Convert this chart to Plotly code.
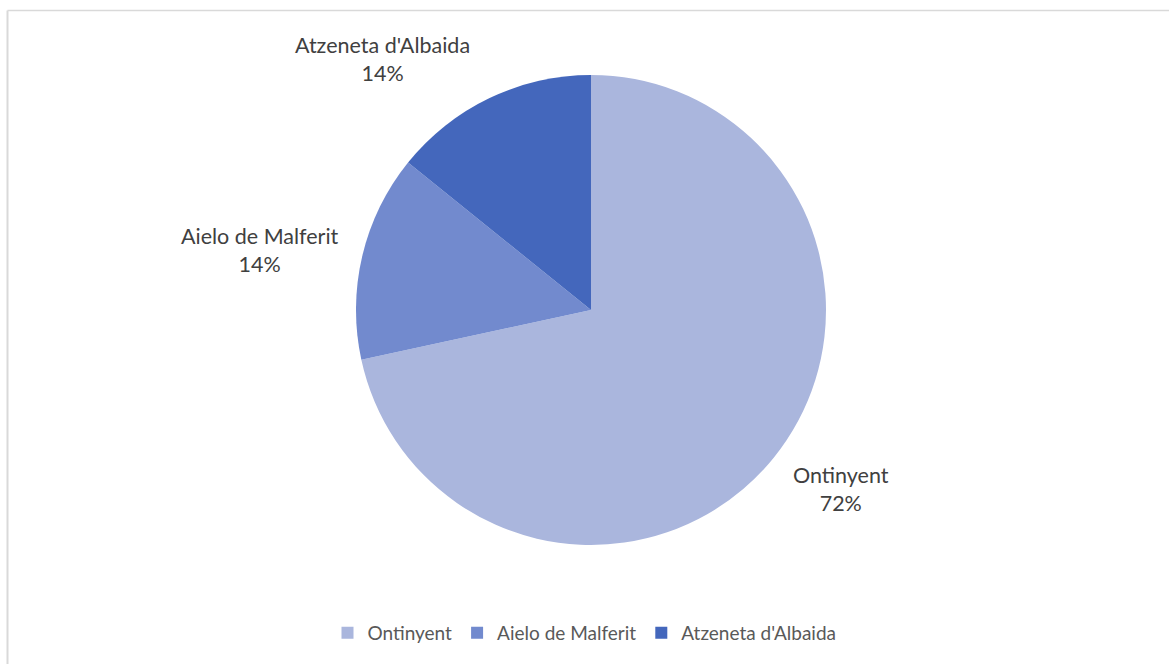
import plotly.graph_objects as go

labels = ["Ontinyent", "Aielo de Malferit", "Atzeneta d'Albaida"]
values = [71.6, 14.2, 14.2]
colors = ["#aab6dd", "#728ace", "#4467bc"]

W, H = 1169, 664
cx, cy, r = 591, 310, 235

fig = go.Figure(go.Pie(
    labels=labels, values=values, sort=False, direction="clockwise", rotation=0,
    marker=dict(colors=colors, line=dict(width=0)),
    textinfo="none", hoverinfo="label+percent",
    domain=dict(x=[(cx - r) / W, (cx + r) / W], y=[1 - (cy + r) / H, 1 - (cy - r) / H]),
))

# label positions (pixel centres) for data labels
label_pos = {"Ontinyent": (841, 489), "Aielo de Malferit": (260, 250), "Atzeneta d'Albaida": (382, 59)}
total = sum(values)
annotations = []
for lab, v in zip(labels, values):
    px, py = label_pos[lab]
    annotations.append(dict(
        x=px / W, y=1 - py / H, xref="paper", yref="paper", showarrow=False,
        text=f"{lab}<br>{round(100 * v / total)}%", align="center",
        font=dict(family="Lato", size=21.5, color="#404040"),
        xanchor="center", yanchor="middle",
    ))

shapes = [
    dict(type="line", xref="paper", yref="paper", x0=7.5 / W, x1=1.0, y0=1 - 10.5 / H, y1=1 - 10.5 / H,
         line=dict(color="#d9d9d9", width=1.5)),
    dict(type="line", xref="paper", yref="paper", x0=7.5 / W, x1=7.5 / W, y0=0, y1=1 - 10.5 / H,
         line=dict(color="#d9d9d9", width=2)),
]

fig.update_layout(
    width=W, height=H, margin=dict(l=0, r=0, t=0, b=0),
    paper_bgcolor="white", plot_bgcolor="white",
    showlegend=True,
    legend=dict(orientation="h", x=0.5, xanchor="center", y=1 - 633 / H, yanchor="middle",
                font=dict(family="Lato", size=19, color="#595959"), itemwidth=30,
                traceorder="normal"),
    annotations=annotations, shapes=shapes,
)

fig.write_html("out.html")
